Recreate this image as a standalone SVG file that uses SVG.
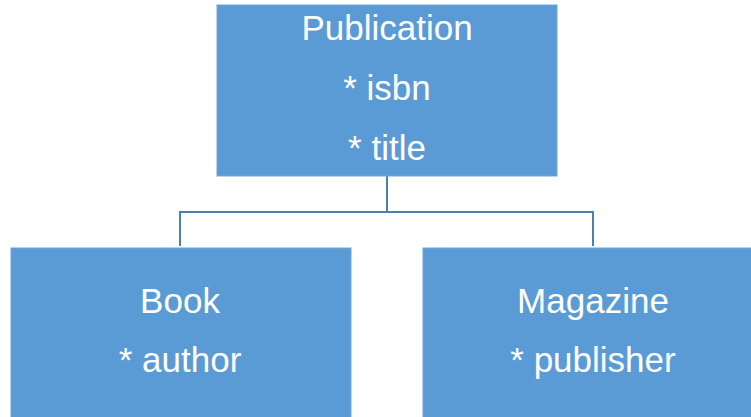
<svg xmlns="http://www.w3.org/2000/svg" width="751" height="417" viewBox="0 0 751 417">
<style>
.box{fill:#5b9bd5;stroke:#6fa6da;stroke-width:1}
.t{font-family:"Liberation Sans",Arial,sans-serif;font-size:35px;fill:#ffffff;text-anchor:middle}
.c{fill:none;stroke:#4d7fb3;stroke-width:2}
</style>
<rect width="751" height="417" fill="#ffffff"/>
<g id="connectors">
<path class="c" d="M387 176 V212 M180 212 H593 M180 211 V246 M593 211 V246"/>
</g>
<g id="publication">
<rect class="box" x="217" y="5" width="340" height="171"/>
<text class="t" x="387" y="40">Publication</text>
<text class="t" x="387" y="100">* isbn</text>
<text class="t" x="387" y="160">* title</text>
</g>
<g id="book">
<rect class="box" x="11" y="248" width="340" height="172"/>
<text class="t" x="180" y="313">Book</text>
<text class="t" x="180" y="372">* author</text>
</g>
<g id="magazine">
<rect class="box" x="423" y="248" width="340" height="172"/>
<text class="t" x="593" y="313">Magazine</text>
<text class="t" x="593" y="372">* publisher</text>
</g>
</svg>
